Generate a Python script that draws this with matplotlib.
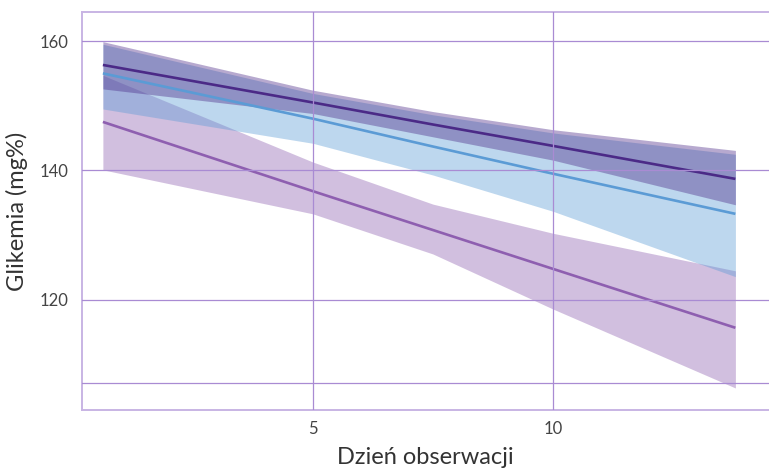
import numpy as np
import matplotlib
matplotlib.use("Agg")
import matplotlib.pyplot as plt

plt.rcParams['font.family'] = ['Lato', 'DejaVu Sans']

# dzień obserwacji
days = np.array([0.625, 5, 7.5, 10, 13.8])

# grupa 1 (ciemnofioletowa)
g1_fit = [156.3, 150.5, 147.1, 143.8, 138.7]
g1_lo = [152.6, 148.8, 145.2, 141.6, 134.7]
g1_hi = [159.9, 152.4, 149.1, 146.3, 143.1]

# grupa 2 (niebieska)
g2_fit = [155.0, 148.0, 143.7, 139.5, 133.3]
g2_lo = [149.5, 144.2, 139.3, 133.7, 123.6]
g2_hi = [159.5, 151.9, 148.6, 145.8, 142.5]

# grupa 3 (fioletowa)
g3_fit = [147.5, 136.8, 130.8, 124.8, 115.7]
g3_lo = [140.1, 133.3, 127.1, 118.6, 106.4]
g3_hi = [154.7, 141.3, 134.8, 130.3, 124.5]

x_ticks = [5, 10]
y_ticks = [120, 140, 160]
y_extra_grid = [107.2]

colors = ["#4b2a87", "#5b9bd5", "#8e5fb0"]

fig = plt.figure(figsize=(7.69, 4.70), dpi=100)
ax = fig.add_axes([82 / 769, 60 / 470, 687 / 769, 398 / 470])

series = [(g3_fit, g3_lo, g3_hi, colors[2]),
          (g2_fit, g2_lo, g2_hi, colors[1]),
          (g1_fit, g1_lo, g1_hi, colors[0])]
for fit, lo, hi, c in series:
    ax.fill_between(days, lo, hi, color=c, alpha=0.4, linewidth=0)
for fit, lo, hi, c in series:
    ax.plot(days, fit, color=c, linewidth=1.9, solid_capstyle="butt")

ax.set_xlim(0.19, 14.5)
ax.set_ylim(103.0, 164.48)

ax.set_xticks(x_ticks)
ax.set_yticks(y_ticks)
ax.set_yticks(y_extra_grid, minor=True)
ax.tick_params(axis="both", which="both", length=0, labelsize=12, labelcolor="#444444")
ax.tick_params(axis="y", pad=10)
ax.tick_params(axis="x", pad=8)

grid_c = "#a98bd3"
ax.grid(True, which="major", color=grid_c, linewidth=0.9)
ax.grid(True, which="minor", axis="y", color=grid_c, linewidth=0.9)
ax.set_axisbelow(False)

for side in ["left", "top", "bottom"]:
    ax.spines[side].set_color("#c8b4e4")
    ax.spines[side].set_linewidth(1.4)
ax.spines["right"].set_visible(False)

ax.set_xlabel("Dzień obserwacji", fontsize=17, color="#333333", labelpad=7)
ax.set_ylabel("Glikemia (mg%)", fontsize=17, color="#333333", labelpad=8)

fig.savefig("out.png", dpi=100)
